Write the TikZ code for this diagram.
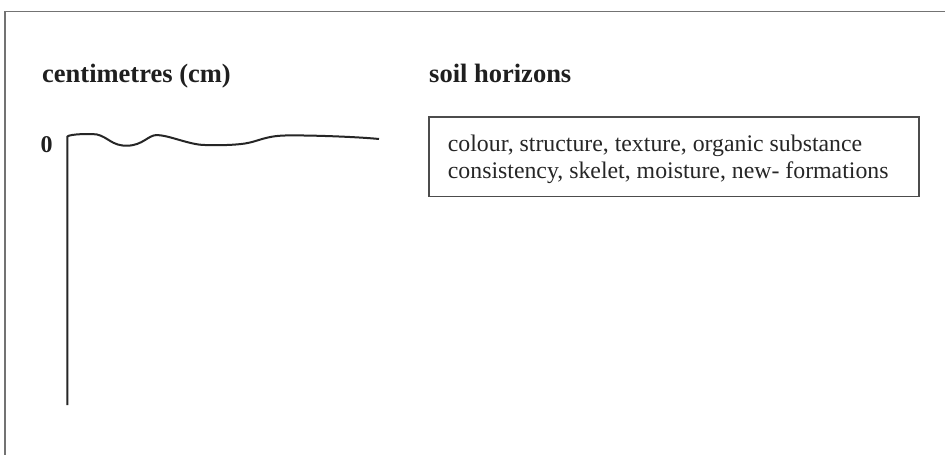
\documentclass[tikz,border=0pt]{standalone}
\usepackage{fontspec}
\setmainfont{Liberation Serif}
\begin{document}
\begin{tikzpicture}[x=1pt,y=-1pt,
  head/.style={font=\fontsize{26.5}{30}\selectfont\bfseries, text=black!88, inner sep=0pt, anchor=base west},
  body/.style={font=\fontsize{23.8}{26.5}\selectfont, text=black!85, inner sep=0pt, anchor=base west, align=left},
  frameline/.style={draw=black!55, line width=1.2pt},
  profile/.style={draw=black!85, line width=2pt, line join=round},
  boxstyle/.style={draw=black!70, line width=1.2pt, minimum width=490pt, minimum height=79.5pt, inner sep=0pt}]
\useasboundingbox (0,0) rectangle (945,455);
\fill[white] (0,0) rectangle (945,455);
% outer frame (top and left edges)
\coordinate (ftr) at (945,11.7);
\coordinate (ftl) at (5,11.7);
\coordinate (fbl) at (5,455);
\draw[frameline] (ftr) -- (ftl) -- (fbl);
% headings
\node[head] (cm) at (42,82.7) {centimetres (cm)};
\node[head] (sh) at (429,82.7) {soil horizons};
% zero label
\node[head, font=\fontsize{24}{28}\selectfont\bfseries] (zero) at (40.5,152.3) {0};
% profile axis and surface line
\coordinate (axb) at (67.3,405);
\coordinate (axt) at (67.3,136.5);
\coordinate (send) at (379,139);
\draw[profile] (axb) -- (axt)
  .. controls (70,134) and (90,133.5) .. (97,134.5)
  .. controls (108,137) and (112,146) .. (127,145.7)
  .. controls (143,145.5) and (148,135) .. (157,135)
  .. controls (170,135.5) and (190,145) .. (205,145)
  .. controls (220,145.5) and (235,145) .. (245,143.5)
  .. controls (258,141.5) and (265,136) .. (285,135.5)
  .. controls (310,135) and (360,137) .. (send);
% box
\node[boxstyle] (box) at (674,156.8) {};
\node[body] (boxtext) at (447.7,178) {colour, structure, texture, organic substance\\consistency, skelet, moisture, new- formations};
\end{tikzpicture}
\end{document}
